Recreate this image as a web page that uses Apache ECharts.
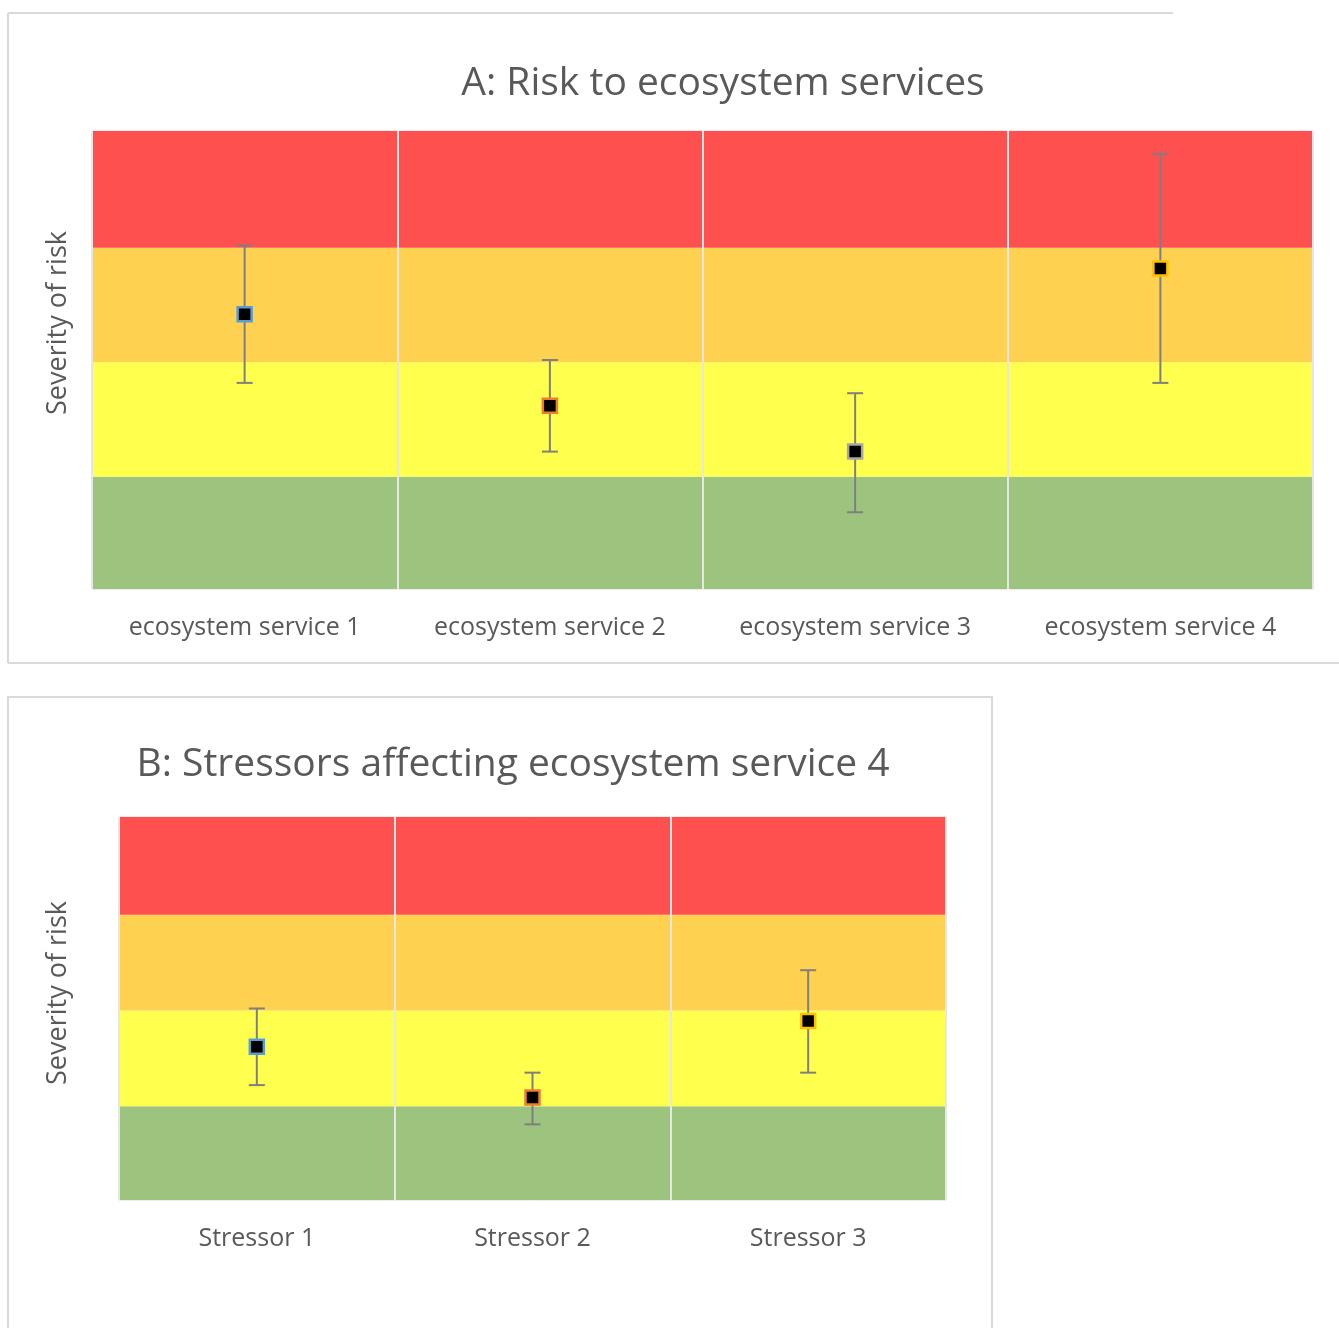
<!DOCTYPE html>
<html>
<head>
<meta charset="utf-8">
<script src="https://cdn.jsdelivr.net/npm/echarts@6/dist/echarts.min.js"></script>
<style>html,body{margin:0;padding:0;background:#fff}#c{width:1339px;height:1328px}</style>
</head>
<body>
<div id="c"></div>
<script>
const catsA = ['ecosystem service 1','ecosystem service 2','ecosystem service 3','ecosystem service 4'];
const valA  = [2.40, 1.60, 1.20, 2.80];
const lowA  = [1.80, 1.20, 0.67, 1.80];
const highA = [3.00, 2.00, 1.71, 3.80];
const edgeA = ['#5B9BD5','#ED7D31','#A5A5A5','#FFC000'];

const catsB = ['Stressor 1','Stressor 2','Stressor 3'];
const valB  = [1.60, 1.07, 1.87];
const lowB  = [1.20, 0.79, 1.33];
const highB = [2.00, 1.33, 2.40];
const edgeB = ['#5B9BD5','#ED7D31','#FFC000'];

const bandNames  = ['low','moderate','high','very high'];
const bandColors = ['#9DC47F','#FFFF4D','#FFD150','#FF5050'];
const bandSize   = [0.98, 1, 1, 1.02];

const chart = echarts.init(document.getElementById('c'));
const font = '"Open Sans", "Noto Sans", sans-serif';

function bandSeries(gi, n) {
  return bandNames.map((nm, i) => ({
    type: 'bar', name: nm, xAxisIndex: gi, yAxisIndex: gi, stack: 'bands' + gi,
    barCategoryGap: '0%', silent: true, z: 1,
    itemStyle: { color: bandColors[i] },
    data: new Array(n).fill(bandSize[i])
  }));
}
function errSeries(gi, low, high) {
  return {
    type: 'custom', xAxisIndex: gi, yAxisIndex: gi, z: 10, silent: true,
    data: low.map((l, i) => [i, l, high[i]]),
    renderItem: function (params, api) {
      const lo = api.coord([api.value(0), api.value(1)]);
      const hi = api.coord([api.value(0), api.value(2)]);
      const w = 8;
      const st = { stroke: '#7F7F7F', lineWidth: 2 };
      return { type: 'group', children: [
        { type: 'line', shape: { x1: lo[0], y1: lo[1], x2: hi[0], y2: hi[1] }, style: st },
        { type: 'line', shape: { x1: lo[0]-w, y1: lo[1], x2: lo[0]+w, y2: lo[1] }, style: st },
        { type: 'line', shape: { x1: hi[0]-w, y1: hi[1], x2: hi[0]+w, y2: hi[1] }, style: st }
      ]};
    }
  };
}
function pointSeries(gi, vals, edges) {
  return {
    type: 'scatter', xAxisIndex: gi, yAxisIndex: gi, z: 12, symbol: 'rect', symbolSize: 14,
    data: vals.map((v, i) => ({ value: [i, v], itemStyle: { color: '#000', opacity: 1, borderColor: edges[i], borderWidth: 2.5 } }))
  };
}
function xAx(gi, cats) {
  return {
    type: 'category', gridIndex: gi, data: cats, boundaryGap: true, z: 5,
    axisLine: { show: false }, axisTick: { show: false },
    axisLabel: { color: '#595959', fontSize: 25, margin: 26, fontFamily: font },
    splitLine: { show: true, lineStyle: { color: '#E6E6E6', width: 2 } }
  };
}
function yAx(gi) {
  return {
    type: 'value', gridIndex: gi, min: 0, max: 4, interval: 1,
    axisLine: { show: false }, axisTick: { show: false }, axisLabel: { show: false },
    splitLine: { show: false }
  };
}
function yName(x, y) {
  return { type: 'text', x: x, y: y, rotation: Math.PI / 2,
    style: { text: 'Severity of risk', fill: '#595959', font: '27px ' + font, align: 'center', verticalAlign: 'middle' } };
}

chart.setOption({
  animation: false,
  title: [
    { text: 'A: Risk to ecosystem services', left: 718, top: 59, textAlign: 'center',
      textStyle: { color: '#595959', fontSize: 39, fontWeight: 'normal', fontFamily: font } },
    { text: 'B: Stressors affecting ecosystem service 4', left: 508, top: 740, textAlign: 'center',
      textStyle: { color: '#595959', fontSize: 39, fontWeight: 'normal', fontFamily: font } }
  ],
  grid: [
    { left: 92, top: 131, width: 1221, height: 458, show: true, borderColor: '#D9D9D9', borderWidth: 1 },
    { left: 119, top: 817, width: 827, height: 383, show: true, borderColor: '#D9D9D9', borderWidth: 1 }
  ],
  xAxis: [xAx(0, catsA), xAx(1, catsB)],
  yAxis: [yAx(0), yAx(1)],
  series: [
    ...bandSeries(0, catsA.length), errSeries(0, lowA, highA), pointSeries(0, valA, edgeA),
    ...bandSeries(1, catsB.length), errSeries(1, lowB, highB), pointSeries(1, valB, edgeB)
  ],
  graphic: [
    { type: 'line', shape: { x1: 8, y1: 13, x2: 1173, y2: 13 }, style: { stroke: '#D9D9D9', lineWidth: 2 } },
    { type: 'line', shape: { x1: 8, y1: 13, x2: 8, y2: 663 }, style: { stroke: '#D9D9D9', lineWidth: 2 } },
    { type: 'line', shape: { x1: 8, y1: 663, x2: 1339, y2: 663 }, style: { stroke: '#D9D9D9', lineWidth: 2 } },
    { type: 'rect', shape: { x: 8, y: 697, width: 984, height: 660 }, style: { fill: 'none', stroke: '#D9D9D9', lineWidth: 2 } },
    yName(58, 323),
    yName(58, 993)
  ]
});
</script>
</body>
</html>
